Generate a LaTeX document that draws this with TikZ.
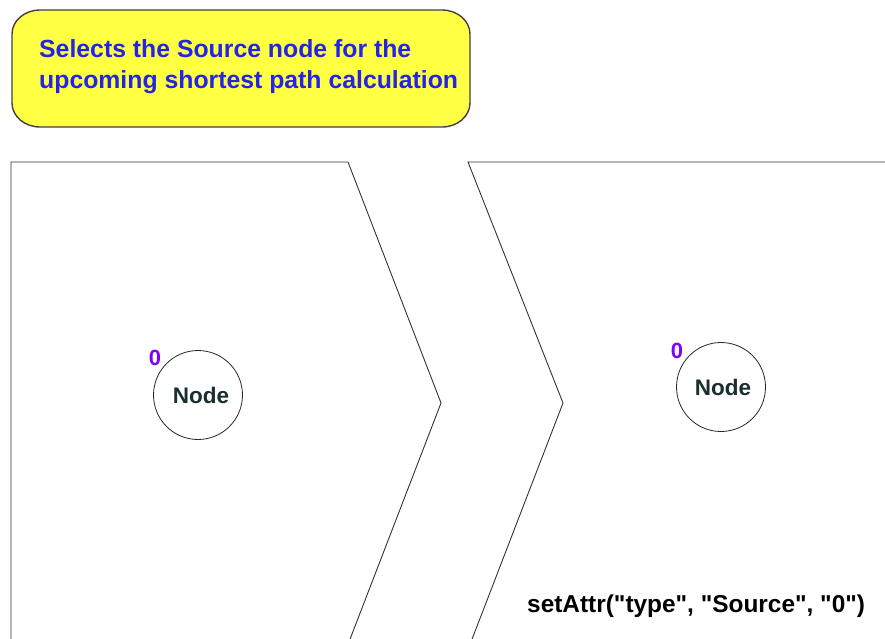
\documentclass[tikz,border=0pt]{standalone}
\usepackage{fontspec}
\setmainfont{Liberation Sans}
\begin{document}
\begin{tikzpicture}[x=1pt,y=-1pt,
  chev/.style={draw=black!80, line width=0.9pt, line join=miter},
  callout/.style={draw=black!75, line width=1.4pt, fill=calloutyellow},
  gnode/.style={circle, draw=black!85, line width=0.8pt, minimum size=89pt, inner sep=0pt, font=\fontsize{22.5}{24}\selectfont\bfseries, text=nodetext},
  idx/.style={font=\fontsize{22}{24}\selectfont\bfseries, text=idxpurple, inner sep=0pt},
]
\definecolor{calloutyellow}{HTML}{FFFF44}
\definecolor{nodetext}{HTML}{1A2E30}
\definecolor{idxpurple}{HTML}{8000FF}
\definecolor{calltext}{HTML}{2424E6}
\useasboundingbox (0,0) rectangle (885,638);
\clip (0,0) rectangle (885,638);
% callout
\draw[callout] (40,10) -- (442,10) arc[start angle=90, end angle=0, x radius=28pt, y radius=24pt]
  -- (470,103) arc[start angle=0, end angle=-90, x radius=28pt, y radius=24pt]
  -- (40,127) arc[start angle=270, end angle=180, x radius=28pt, y radius=24pt]
  -- (12,34) arc[start angle=180, end angle=90, x radius=28pt, y radius=24pt] -- cycle;
\node[anchor=base west, align=left, inner sep=0pt, text=calltext, font=\fontsize{24.8}{31}\selectfont\bfseries] (note) at (39,88) {Selects the Source node for the\\upcoming shortest path calculation};
% chevrons
\draw[chev] (11,660) -- (11,162) -- (348,162) -- (441,403) -- (342,660);
\draw[chev] (900,162) -- (468,162) -- (563,403) -- (464,660);
% nodes
\node[gnode] (n1) at (198,395) {\hspace{6pt}Node};
\node[idx] (l1) at (155,358) {0};
\node[gnode] (n2) at (721,387) {\hspace{4pt}Node};
\node[idx] (l2) at (677,351) {0};
\node[font=\fontsize{24.4}{26}\selectfont\bfseries, inner sep=0pt, anchor=base west] (code) at (527,612) {setAttr(\textquotedbl type\textquotedbl, \textquotedbl Source\textquotedbl, \textquotedbl 0\textquotedbl)};
\end{tikzpicture}
\end{document}
